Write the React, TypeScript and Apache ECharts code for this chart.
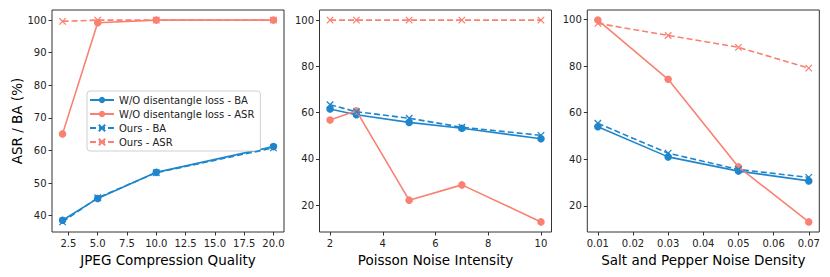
import React, { useEffect, useRef } from "react";
import * as echarts from "echarts";

const SERIES_NAMES = [
  "W/O disentangle loss - BA",
  "W/O disentangle loss - ASR",
  "Ours - BA",
  "Ours - ASR",
];

// JPEG Compression Quality
const jpegX = [2, 5, 10, 20];
const jpegWoBA = [38.6, 45.3, 53.3, 61.2];
const jpegWoASR = [65.1, 99.2, 100, 100];
const jpegOursBA = [38.1, 45.5, 53.2, 60.8];
const jpegOursASR = [99.6, 100, 100, 100];
const jpegXTicks = [2.5, 5, 7.5, 10, 12.5, 15, 17.5, 20];
const jpegYTicks = [40, 50, 60, 70, 80, 90, 100];

// Poisson Noise Intensity
const poissonX = [2, 3, 5, 7, 10];
const poissonWoBA = [61.6, 59.1, 55.8, 53.3, 48.7];
const poissonWoASR = [56.8, 60.8, 22.2, 28.8, 12.8];
const poissonOursBA = [63.4, 60.4, 57.6, 53.7, 50.2];
const poissonOursASR = [100, 100, 100, 100, 100];
const poissonXTicks = [2, 4, 6, 8, 10];
const poissonYTicks = [20, 40, 60, 80, 100];

// Salt and Pepper Noise Density
const spX = [0.01, 0.03, 0.05, 0.07];
const spWoBA = [53.9, 41.0, 34.9, 30.7];
const spWoASR = [99.7, 74.3, 36.7, 13.1];
const spOursBA = [55.4, 42.6, 35.6, 32.2];
const spOursASR = [98.3, 93.1, 88.0, 79.1];
const spXTicks = [0.01, 0.02, 0.03, 0.04, 0.05, 0.06, 0.07];
const spYTicks = [20, 40, 60, 80, 100];

const X_LABELS = [
  "JPEG Compression Quality",
  "Poisson Noise Intensity",
  "Salt and Pepper Noise Density",
];

const BLUE = "#1f86cc";
const RED = "#fa8072";
const FONT = "DejaVu Sans";
const X_PATH = "path://M0,0L10,10M10,0L0,10";

function pad(vals: number[]) {
  const mn = Math.min(...vals);
  const mx = Math.max(...vals);
  const m = (mx - mn) * 0.05;
  return [mn - m, mx + m];
}

export default function App() {
  const ref = useRef<HTMLDivElement>(null);

  useEffect(() => {
    document.body.style.margin = "0";
    const chart = echarts.init(ref.current!, undefined, { renderer: "svg" });

    const panels = [
      {
        x: jpegX,
        ys: [jpegWoBA, jpegWoASR, jpegOursBA, jpegOursASR],
        xt: jpegXTicks,
        yt: jpegYTicks,
        xfmt: (v: number) => v.toFixed(1),
        left: 52,
      },
      {
        x: poissonX,
        ys: [poissonWoBA, poissonWoASR, poissonOursBA, poissonOursASR],
        xt: poissonXTicks,
        yt: poissonYTicks,
        xfmt: (v: number) => String(v),
        left: 319.5,
      },
      {
        x: spX,
        ys: [spWoBA, spWoASR, spOursBA, spOursASR],
        xt: spXTicks,
        yt: spYTicks,
        xfmt: (v: number) => v.toFixed(2),
        left: 587.3,
      },
    ];

    const grid: any[] = [];
    const xAxis: any[] = [];
    const yAxis: any[] = [];
    const series: any[] = [];

    panels.forEach((p, i) => {
      grid.push({
        left: p.left,
        top: 10,
        width: 232,
        height: 222,
        show: true,
        borderColor: "#333",
        borderWidth: 1,
        backgroundColor: "transparent",
      });
      const [xmin, xmax] = pad(p.x);
      const [ymin, ymax] = pad(p.ys.flat());
      xAxis.push({
        type: "value",
        gridIndex: i,
        min: xmin,
        max: xmax,
        name: X_LABELS[i],
        nameLocation: "middle",
        nameGap: 19.5,
        nameTextStyle: { fontFamily: FONT, fontSize: 13.5, color: "#000" },
        axisLine: { show: false },
        splitLine: { show: false },
        axisTick: {
          show: true,
          length: 3.5,
          customValues: p.xt,
          lineStyle: { color: "#333", width: 1 },
        },
        axisLabel: {
          customValues: p.xt,
          formatter: p.xfmt,
          margin: 6,
          fontFamily: FONT,
          fontSize: 10,
          color: "#222",
        },
      });
      yAxis.push({
        type: "value",
        gridIndex: i,
        min: ymin,
        max: ymax,
        name: i === 0 ? "ASR / BA (%)" : "",
        nameLocation: "middle",
        nameGap: 25,
        nameRotate: 90,
        nameTextStyle: { fontFamily: FONT, fontSize: 13.5, color: "#000" },
        axisLine: { show: false },
        splitLine: { show: false },
        axisTick: {
          show: true,
          length: 3.5,
          customValues: p.yt,
          lineStyle: { color: "#333", width: 1 },
        },
        axisLabel: {
          customValues: p.yt,
          formatter: (v: number) => String(Math.round(v)),
          margin: 5.5,
          fontFamily: FONT,
          fontSize: 10,
          color: "#222",
        },
      });
      p.ys.forEach((ys, k) => {
        const color = k % 2 === 0 ? BLUE : RED;
        const dashed = k >= 2;
        series.push({
          type: "line",
          name: SERIES_NAMES[k],
          xAxisIndex: i,
          yAxisIndex: i,
          data: p.x.map((x, j) => [x, ys[j]]),
          symbol: dashed ? X_PATH : "circle",
          symbolSize: dashed ? 6.5 : 7.5,
          showSymbol: true,
          z: 2 + k,
          lineStyle: { color, width: 1.6, type: dashed ? [6, 3] : "solid" },
          itemStyle: dashed
            ? { color, borderColor: color, borderWidth: 1.3 }
            : { color, borderWidth: 0 },
          emphasis: { disabled: true },
        });
      });
    });

    chart.setOption({
      animation: false,
      backgroundColor: "#fff",
      grid,
      xAxis,
      yAxis,
      legend: {
        data: SERIES_NAMES,
        orient: "vertical",
        left: 87,
        top: 91,
        itemWidth: 24,
        itemHeight: 8,
        itemGap: 2,
        padding: [3, 6, 3, 2],
        borderColor: "#d0d0d0",
        borderWidth: 1,
        borderRadius: 3,
        backgroundColor: "#fff",
        selectedMode: false,
        textStyle: { fontFamily: FONT, fontSize: 10, color: "#222", lineHeight: 12 },
      },
      series,
    });

    return () => chart.dispose();
  }, []);

  return (
    <div
      ref={ref}
      style={{ position: "absolute", left: 0, top: 0, width: 830, height: 277 }}
    />
  );
}
